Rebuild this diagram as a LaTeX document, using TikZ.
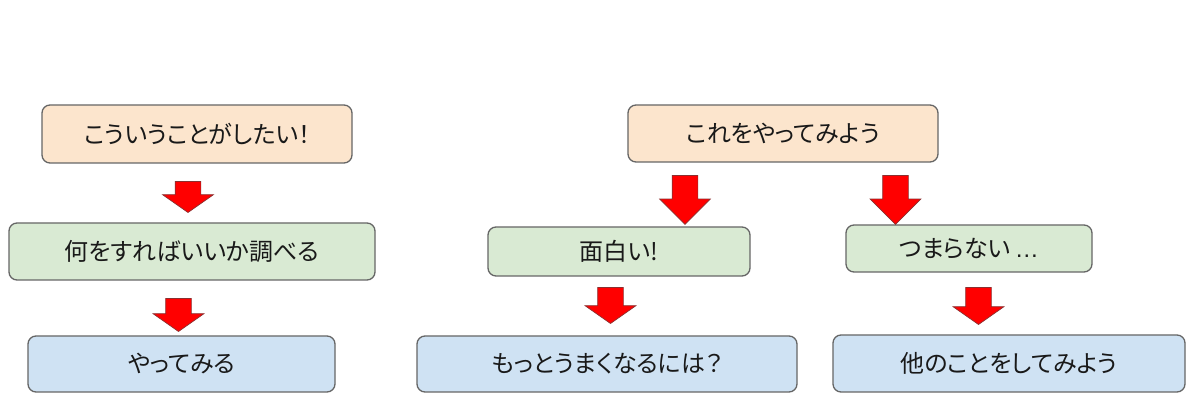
\documentclass[tikz,border=0pt]{standalone}
\usepackage{fontspec}
\newfontfamily\jpfont[RawFeature=+palt]{Noto Sans CJK JP}
\newfontfamily\latinfont{Liberation Sans}
\usetikzlibrary{shapes.arrows}
\definecolor{wishFill}{HTML}{FCE5CD}
\definecolor{stepFill}{HTML}{D9EAD3}
\definecolor{doFill}{HTML}{CFE2F3}
\definecolor{boxLine}{HTML}{666666}
\definecolor{arrowLine}{HTML}{8A3030}

\begin{document}
\begin{tikzpicture}[x=1pt, y=1pt, font=\jpfont\fontsize{24}{29}\selectfont]
        % estilos de cajas y flechas
        \tikzstyle{box} = [draw=boxLine, line width=1.3pt, rounded corners=8pt, inner sep=0pt, text=black!90]
        \tikzstyle{wish} = [box, fill=wishFill]
        \tikzstyle{stepbox} = [box, fill=stepFill]
        \tikzstyle{dobox} = [box, fill=doFill]
        \tikzstyle{downArrow} = [single arrow, draw=arrowLine, fill=red, line width=0.7pt, rotate=-90, inner xsep=0pt, inner ysep=12.5pt, minimum width=50pt, single arrow head extend=12.5pt, single arrow tip angle=110]
        \tikzstyle{longArrow} = [downArrow, single arrow tip angle=90]

        \useasboundingbox (0,0) rectangle (1200,403);

        % columna izquierda
        \node [wish, minimum width=310pt, minimum height=58pt] at (197,269) (wishLeft) {こういうことがしたい！};
        \node [stepbox, minimum width=366pt, minimum height=57pt] at (192,151.5) (searchLeft) {何をすればいいか調べる};
        \node [dobox, minimum width=307pt, minimum height=56pt] at (181.5,39) (tryLeft) {やってみる};
        \node [downArrow, minimum height=31pt] at (188,210.5) (arrowLeft1) {};
        \node [downArrow, minimum height=33pt] at (178.5,92.5) (arrowLeft2) {};

        % columna derecha
        \node [wish, minimum width=310pt, minimum height=57pt] at (783,269.5) (wishRight) {これをやってみよう};
        \node [stepbox, minimum width=262pt, minimum height=49pt] at (619,151.5) (funRight) {面白い!};
        \node [stepbox, minimum width=246pt, minimum height=47pt] at (969,154.5) (boringRight) {つまらない{\latinfont\,…}};
        \node [dobox, minimum width=380pt, minimum height=56pt] at (607,39) (betterRight) {もっとうまくなるには？};
        \node [dobox, minimum width=352pt, minimum height=57pt] at (1009,39.5) (otherRight) {他のことをしてみよう};
        \node [longArrow, minimum height=49pt] at (685,209.5) (arrowFun) {};
        \node [longArrow, minimum height=49pt] at (895.5,209.5) (arrowBoring) {};
        \node [downArrow, minimum height=36pt] at (610.5,102) (arrowBetter) {};
        \node [downArrow, minimum height=37pt] at (978.5,101.5) (arrowOther) {};
\end{tikzpicture}
\end{document}
